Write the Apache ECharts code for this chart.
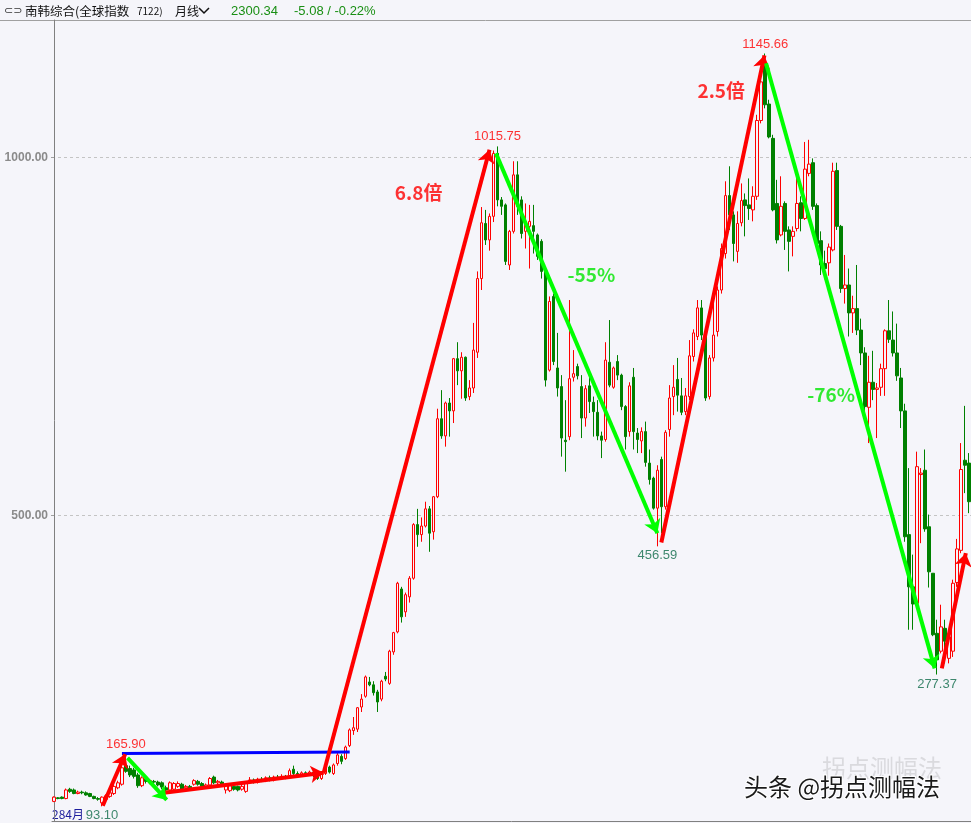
<!DOCTYPE html>
<html>
<head>
<meta charset="utf-8">
<title>南韩综合 月线</title>
<script src="https://cdn.jsdelivr.net/npm/echarts@6/dist/echarts.min.js"></script>
<style>
html, body { margin: 0; padding: 0; background: #f5f5fa; }
#chart { width: 971px; height: 823px; }
</style>
</head>
<body>
<div id="chart"></div>
<script>
// 月K线，每根 [开, 收, 低, 高]，按年份分组
const k1980 = [[100,106,99,107],[105,104,103,106],[106,104,103,107],[104,116,103,118],[117,114,112,119],[116,111,110,118],[111,113,110,115],[113,112,110,115],[112,109,108,114],[111,107,106,112],[107,104,103,108],[104,103,101,106]];
const k1981 = [[98,106,93.1,107],[103,108,101,110],[107,112,105,114],[111,121,109,123],[119,126,117,129],[124,147,122,150],[150,142,140,165.9],[146,137,134,150],[144,135,132,147],[137,122,119,140],[122,133,120,135],[131,128,125,134]];
const k1982 = [[126,129,124,131],[128,127,124,130],[127,123,121,129],[126,120,117,128],[119,116,114,122],[116,126,114,128],[117,125,115,127],[121,125,119,128],[124,117,115,126],[119,121,117,123],[121,119,117,123],[124,129,122,131]];
const k1983 = [[128,124,122,130],[125,121,119,127],[121,123,119,125],[123,132,121,134],[134,126,124,136],[126,128,124,130],[127,123,121,129],[116,123,111,125],[115,122,113,124],[121,117,115,123],[121,116,114,122],[117,121,115,124]];
const k1984 = [[114,126,112,128],[128,130,126,134],[130,127,125,132],[127,131,125,133],[131,129,127,134],[129,133,127,135],[133,130,128,136],[130,134,128,136],[134,132,130,137],[132,135,130,138],[135,133,131,137],[136,143,134,146]];
const k1985 = [[145,139,137,150],[139,137,135,142],[137,140,135,142],[140,138,136,142],[138,141,136,143],[141,136,134,143],[137,132,130,140],[132,139,130,141],[139,149,137,150],[148,141,139,150],[139,151,137,153],[153,165,150,168]];
const k1986 = [[163,156,152,166],[160,176,158,178],[178,200,176,202],[199,203,193,218],[201,231,197,232],[232,243,225,250],[247,274,245,276],[267,263,261,274],[263,252,248,268],[253,239,225,256],[243,268,240,270],[275,271,268,281]];
const k1987 = [[265,310,263,312],[309,336,305,337],[337,405,335,407],[397,358,350,400],[365,389,358,392],[386,412,378,415],[412,487,410,489],[487,473,456,509],[473,485,463,497],[485,509,483,519],[509,475,449,513],[477,526,466,527]];
const k1988 = [[526,635,524,649],[635,611,607,675],[611,657,596,659],[657,646,610,664],[646,719,629,720],[719,702,682,742],[702,721,663,728],[721,664,660,722],[666,678,661,689],[678,731,671,769],[728,831,720,841],[831,909,815,931]];
const k1989 = [[908,885,878,927],[885,918,870,922],[918,1006,910,1010],[1006,941,932,1015.75],[941,932,920,945],[934,855,850,936],[850,897,843,899],[897,976,894,995],[976,932,920,995],[941,894,887,946],[897,908,873,936],[904,911,845,934]];
const k1990 = [[905,897,866,934],[892,862,857,894],[883,841,831,886],[841,689,680,848],[703,799,701,806],[806,715,710,810],[706,678,666,755],[680,608,582,696],[605,603,561,661],[610,691,605,801],[693,698,687,731],[708,695,690,712]];
const k1991 = [[680,636,608,696],[636,677,624,682],[681,659,643,696],[658,645,610,666],[644,611,605,661],[611,605,580,617],[606,717,603,742],[714,682,679,773],[679,706,677,708],[715,696,689,724],[696,652,647,698],[652,610,592,654]];
const k1992 = [[617,681,610,686],[693,617,592,706],[615,606,587,622],[604,617,587,623],[617,574,568,631],[573,550,543,592],[552,510,508,554],[510,563,456.59,570],[578,512,475,582],[512,616,508,619],[620,664,610,682],[666,679,640,710]];
const k1993 = [[690,668,645,720],[667,644,640,692],[645,667,640,678],[666,723,661,745],[722,755,715,760],[750,790,745,801],[790,752,745,801],[755,664,660,760],[666,720,662,724],[720,752,715,801],[757,815,750,820],[815,873,810,880]];
const k1994 = [[866,947,859,967],[947,920,899,988],[920,880,855,925],[869,908,853,925],[909,940,904,964],[941,933,890,950],[934,929,913,971],[927,946,911,960],[946,1052,941,1060],[1052,1106,1048,1118],[1132,1074,1069,1145.66],[1075,1029,1027,1081]];
const k1995 = [[1027,927,925,1032],[936,885,880,969],[892,932,890,974],[936,897,871,939],[899,883,841,904],[890,897,862,904],[901,936,897,974],[937,915,897,946],[915,984,913,1022],[978,991,974,1025],[993,932,927,999],[933,880,876,936]];
const k1996 = [[884,850,836,897],[852,845,830,870],[853,875,835,880],[871,981,869,993],[982,904,899,993],[904,817,811,906],[817,822,796,864],[822,783,750,845],[783,789,755,807],[789,759,752,850],[759,727,710,775],[727,652,643,735]];
const k1997 = [[651,686,601,723],[686,676,661,730],[676,678,608,685],[679,705,667,712],[705,758,667,760],[758,746,741,801],[745,727,722,785],[727,695,688,768],[692,646,622,706],[646,470,463,656],[473,400,340,566],[400,376,340,445]];
const k1998 = [[377,568,375,589],[557,559,461,566],[563,481,477,592],[484,421,399,501],[419,333,331,419],[335,298,277.37,354],[310,344,307,375],[342,324,293,354],[300,330,293,335],[310,405,302,410],[406,453,400,467],[451,564,447,601]];
const k1999 = [[577,570,531,653],[573,519,503,587]];

const startYear = 1980;
const yTicks = [500, 1000];

// 高低点标注 [序号, 数值]
const pivotHigh = [[18, 165.90], [111, 1015.75], [178, 1145.66]];
const pivotLow = [[12, 93.10], [151, 456.59], [221, 277.37]];

// 涨跌幅文字及所在位置 [序号, 数值]
const moveText = ['6.8倍', '-55%', '2.5倍', '-76%'];
const moveAt = [[91.25, 951], [134.5, 836], [167, 1093], [194.5, 668]];

// 趋势线 [起点, 终点]，点为 [序号, 数值]
const riseLines = [
    [[12.2, 94], [17.8, 166]],
    [[27.5, 112], [67.5, 140]],
    [[67.5, 140], [109, 1011]],
    [[152, 462], [177.8, 1143]],
    [[222.2, 286], [228.2, 447]]
];
const fallLines = [
    [[18.4, 161], [28.2, 102]],
    [[110.6, 1006], [151, 475]],
    [[178.2, 1132], [220.4, 286]]
];
const rangeLine = [[17, 167], [74, 169]];

const kData = [].concat(k1980, k1981, k1982, k1983, k1984, k1985, k1986, k1987, k1988, k1989,
    k1990, k1991, k1992, k1993, k1994, k1995, k1996, k1997, k1998, k1999);
const months = kData.map((d, i) => {
    let y = startYear + Math.floor(i / 12);
    let m = i % 12 + 1;
    return y + '-' + (m < 10 ? '0' + m : m);
});

const bg = '#f5f5fa';
const red = '#ff0000';
const green = '#008000';
const clear = 'rgba(0,0,0,0)';

var myChart = echarts.init(document.getElementById('chart'));
let option = {
    backgroundColor: bg,
    animation: false,
    grid: {
        left: 52,
        right: 0,
        top: 20,
        bottom: 2
    },
    xAxis: [
        {
            type: 'category',
            data: months,
            boundaryGap: true,
            axisLine: { lineStyle: { color: '#808080' } },
            axisTick: { show: false },
            axisLabel: { show: false },
            splitLine: { show: false }
        },
        {   // 标注用的隐藏数值轴，与K线一一对齐
            type: 'value',
            min: -0.5,
            max: months.length - 0.5,
            show: false
        }
    ],
    yAxis: {
        type: 'value',
        min: 72.6,
        max: 1192.5,
        axisLine: { show: true, lineStyle: { color: '#808080' } },
        axisTick: {
            show: true,
            length: 3,
            customValues: yTicks,
            lineStyle: { color: '#a0a0a0' }
        },
        axisLabel: {
            customValues: yTicks,
            formatter: v => v.toFixed(2),
            color: '#8a8a8a',
            fontWeight: 'bold',
            fontSize: 12,
            fontFamily: 'Liberation Sans',
            margin: 4
        },
        splitLine: {
            show: true,
            lineStyle: { color: '#c4c4c4', type: [3, 3] }
        }
    },
    series: [
        {
            type: 'candlestick',
            data: kData,
            barWidth: 3,
            silent: true,
            itemStyle: {
                color: bg,
                color0: green,
                borderColor: red,
                borderColor0: green,
                borderWidth: 1
            },
            z: 2
        },
        {
            type: 'lines',
            coordinateSystem: 'cartesian2d',
            xAxisIndex: 1,
            symbol: ['none', 'arrow'],
            symbolSize: 13,
            lineStyle: { color: red, width: 4, opacity: 1 },
            data: riseLines.map(c => ({ coords: c })),
            silent: true,
            z: 4
        },
        {
            type: 'lines',
            coordinateSystem: 'cartesian2d',
            xAxisIndex: 1,
            symbol: ['none', 'arrow'],
            symbolSize: 13,
            lineStyle: { color: '#00ff00', width: 4, opacity: 1 },
            data: fallLines.map(c => ({ coords: c })),
            silent: true,
            z: 4
        },
        {
            type: 'lines',
            coordinateSystem: 'cartesian2d',
            xAxisIndex: 1,
            symbol: 'none',
            lineStyle: { color: '#0000ff', width: 3, opacity: 1 },
            data: [{ coords: rangeLine }],
            silent: true,
            z: 3
        },
        {
            type: 'scatter',
            data: pivotHigh,
            symbolSize: 2,
            itemStyle: { color: clear },
            silent: true,
            label: {
                show: true,
                position: 'top',
                distance: 2,
                formatter: p => p.value[1].toFixed(2),
                color: red,
                fontSize: 13,
                fontFamily: 'Liberation Sans'
            },
            labelLayout: { hideOverlap: false },
            z: 6
        },
        {
            type: 'scatter',
            data: pivotLow,
            symbolSize: 2,
            itemStyle: { color: clear },
            silent: true,
            label: {
                show: true,
                position: 'bottom',
                distance: 2,
                formatter: p => p.value[1].toFixed(2),
                color: '#0f6b4a',
                fontSize: 13,
                fontFamily: 'Liberation Sans'
            },
            labelLayout: { hideOverlap: false },
            z: 6
        },
        {
            type: 'scatter',
            xAxisIndex: 1,
            data: moveAt.map((c, i) => ({
                value: c,
                label: { color: moveText[i].indexOf('%') >= 0 ? '#00e600' : red }
            })),
            symbolSize: 2,
            itemStyle: { color: clear },
            silent: true,
            label: {
                show: true,
                position: 'inside',
                formatter: p => moveText[p.dataIndex],
                fontSize: 19,
                fontWeight: 'bold',
                fontFamily: 'Noto Sans CJK SC'
            },
            labelLayout: { hideOverlap: false },
            z: 6
        }
    ],
    graphic: [
        { type: 'line', silent: true, shape: { x1: 0, y1: 20.5, x2: 971, y2: 20.5 }, style: { stroke: '#a0a0a0', lineWidth: 1 } },
        { type: 'text', x: 4, y: 11, style: { text: '⊂⊃', font: '11px "DejaVu Sans"', fill: '#333', verticalAlign: 'middle' } },
        { type: 'text', x: 25, y: 11, style: { text: '南韩综合(全球指数', font: '12.5px "Noto Sans CJK SC"', fill: '#111', verticalAlign: 'middle' } },
        { type: 'text', x: 137, y: 11, style: { text: '7122)', font: '10px "Noto Sans CJK SC"', fill: '#111', verticalAlign: 'middle' } },
        { type: 'text', x: 175, y: 11, style: { text: '月线', font: '12px "Noto Sans CJK SC"', fill: '#111', verticalAlign: 'middle' } },
        { type: 'polyline', silent: true, shape: { points: [[199, 8], [204, 13], [209, 8]] }, style: { stroke: '#111', lineWidth: 1.5, fill: null } },
        { type: 'text', x: 231, y: 11, style: { text: '2300.34', font: '13px "Liberation Sans"', fill: '#1a8f14', verticalAlign: 'middle' } },
        { type: 'text', x: 294, y: 11, style: { text: '-5.08 / -0.22%', font: '13px "Liberation Sans"', fill: '#1a8f14', verticalAlign: 'middle' } },
        { type: 'text', x: 52, y: 814, style: { text: '284月', font: '12px "Noto Sans CJK SC"', fill: '#1c1c9c', verticalAlign: 'middle' } },
        { type: 'text', x: 822, y: 768, style: { text: '拐点测幅法', font: '24px "Noto Sans CJK SC"', fill: '#dadade', verticalAlign: 'middle' } },
        { type: 'text', x: 744, y: 787, style: { text: '头条 @拐点测幅法', font: '24px "Noto Sans CJK SC"', fill: '#1a1a1a', stroke: '#ffffff', lineWidth: 2, verticalAlign: 'middle' } }
    ]
};
myChart.setOption(option);
</script>
</body>
</html>
